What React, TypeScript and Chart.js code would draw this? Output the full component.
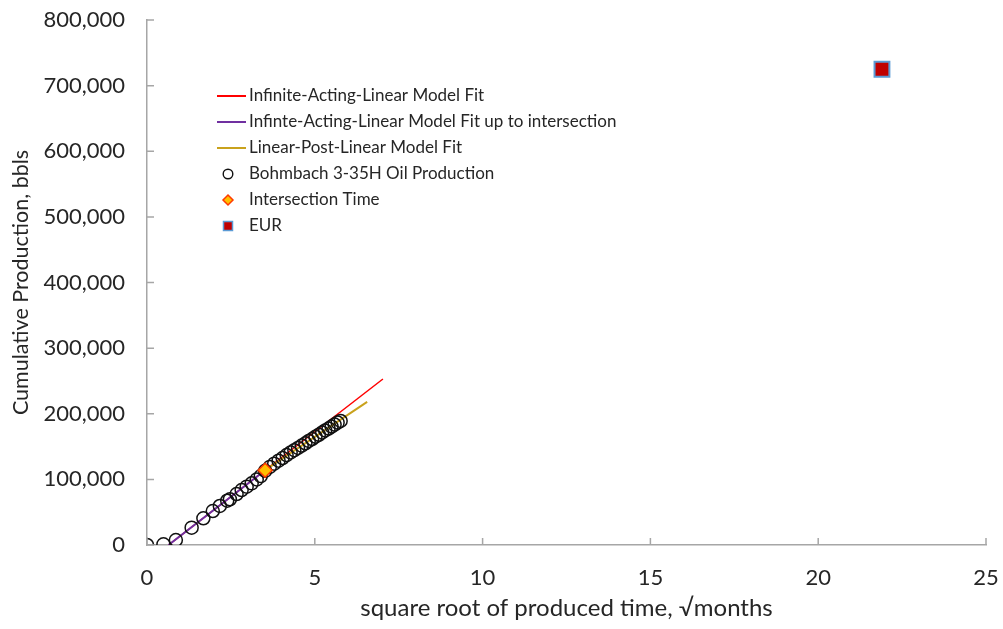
import React, { useEffect, useRef } from "react";
import { Chart, registerables } from "chart.js";

Chart.register(...registerables);

// Square-root-time plot of cumulative oil production with model fits
const productionX = [
  0, 0.49, 0.86, 1.33, 1.68, 1.96, 2.17, 2.39, 2.47, 2.67, 2.82, 2.97, 3.12,
  3.27, 3.39, 3.52, 3.66, 3.79, 3.92, 4.04, 4.16, 4.28, 4.39, 4.5, 4.61, 4.72,
  4.82, 4.92, 5.02, 5.12, 5.22, 5.31, 5.41, 5.5, 5.59, 5.68, 5.77,
];
const productionY = [
  0, 1000, 7600, 26400, 40700, 51800, 59500, 67500, 69700, 77700, 83800, 88900,
  94000, 100000, 105000, 113000, 119000, 124000, 128500, 132500, 137000,
  141000, 144500, 148000, 151500, 155000, 158500, 161500, 165000, 168000,
  171500, 174500, 177500, 180500, 183500, 186500, 189000,
];

const infiniteFitX = [0.64, 7.03];
const infiniteFitY = [0, 253000];

const infiniteToIntersectionX = [0.64, 3.52];
const infiniteToIntersectionY = [0, 114000];

const postLinearX = [3.52, 6.56];
const postLinearY = [114000, 218000];

const intersectionX = [3.52];
const intersectionY = [114000];

const eurX = [21.9];
const eurY = [725000];

const xMin = 0;
const xMax = 25;
const xStep = 5;
const yMin = 0;
const yMax = 800000;
const yStep = 100000;

const seriesNames = [
  "Infinite-Acting-Linear Model Fit",
  "Infinte-Acting-Linear Model Fit up to intersection",
  "Linear-Post-Linear Model Fit",
  "Bohmbach 3-35H Oil Production",
  "Intersection Time",
  "EUR",
];

const xTitle = "square root of produced time, \u221Amonths";
const yTitle = "Cumulative Production, bbls";

const FONT = "Lato, 'Open Sans', sans-serif";
const TEXT = "#262626";
const AXIS = "#A6A6A6";

const toPoints = (xs: number[], ys: number[]) =>
  xs.map((x, i) => ({ x, y: ys[i] }));

// Tick marks that point into the plot area
const innerTicks = {
  id: "innerTicks",
  afterDatasetsDraw(chart: any) {
    const { ctx, chartArea, scales } = chart;
    ctx.save();
    ctx.strokeStyle = AXIS;
    ctx.lineWidth = 1.5;
    ctx.beginPath();
    for (const t of scales.x.ticks) {
      const px = scales.x.getPixelForValue(t.value);
      ctx.moveTo(px, chartArea.bottom);
      ctx.lineTo(px, chartArea.bottom - 7);
    }
    for (const t of scales.y.ticks) {
      const py = scales.y.getPixelForValue(t.value);
      ctx.moveTo(chartArea.left, py);
      ctx.lineTo(chartArea.left + 7, py);
    }
    ctx.stroke();
    ctx.restore();
  },
};

// Legend drawn inside the plot area, upper left
const insideLegend = {
  id: "insideLegend",
  afterDraw(chart: any) {
    const { ctx } = chart;
    const sets = chart.data.datasets;
    const lx = 217;
    const top = 96;
    const rowH = 26;
    ctx.save();
    ctx.font = `17px ${FONT}`;
    ctx.textBaseline = "middle";
    ctx.fillStyle = TEXT;
    sets.forEach((ds: any, i: number) => {
      const y = top + i * rowH;
      const cx = lx + 11;
      if (ds.showLine) {
        ctx.strokeStyle = ds.borderColor;
        ctx.lineWidth = 2;
        ctx.beginPath();
        ctx.moveTo(lx, y);
        ctx.lineTo(lx + 29, y);
        ctx.stroke();
      } else if (ds.pointStyle === "circle") {
        ctx.strokeStyle = ds.borderColor;
        ctx.lineWidth = 1.4;
        ctx.beginPath();
        ctx.arc(cx, y, 4.8, 0, Math.PI * 2);
        ctx.stroke();
      } else if (ds.pointStyle === "rectRot") {
        ctx.fillStyle = ds.backgroundColor;
        ctx.strokeStyle = ds.borderColor;
        ctx.lineWidth = 1.5;
        ctx.beginPath();
        ctx.moveTo(cx, y - 5);
        ctx.lineTo(cx + 5, y);
        ctx.lineTo(cx, y + 5);
        ctx.lineTo(cx - 5, y);
        ctx.closePath();
        ctx.fill();
        ctx.stroke();
      } else {
        ctx.fillStyle = ds.backgroundColor;
        ctx.strokeStyle = ds.borderColor;
        ctx.lineWidth = 1.5;
        ctx.fillRect(cx - 4.5, y - 4.5, 9, 9);
        ctx.strokeRect(cx - 4.5, y - 4.5, 9, 9);
      }
      ctx.fillStyle = TEXT;
      ctx.fillText(ds.label, lx + 32, y);
    });
    ctx.restore();
  },
};

export default function App() {
  const canvasRef = useRef<HTMLCanvasElement | null>(null);

  useEffect(() => {
    if (!canvasRef.current) return;
    const lineSet = (label: string, xs: number[], ys: number[], color: string, width: number, order: number) => ({
      label,
      data: toPoints(xs, ys),
      showLine: true,
      borderColor: color,
      backgroundColor: color,
      borderWidth: width,
      pointRadius: 0,
      pointHoverRadius: 0,
      order,
    });

    const chart = new Chart(canvasRef.current, {
      type: "scatter",
      data: {
        datasets: [
          lineSet(seriesNames[0], infiniteFitX, infiniteFitY, "#FF0000", 1.5, 5),
          lineSet(seriesNames[1], infiniteToIntersectionX, infiniteToIntersectionY, "#7030A0", 2, 4),
          lineSet(seriesNames[2], postLinearX, postLinearY, "#C9A21C", 2, 3),
          {
            label: seriesNames[3],
            data: toPoints(productionX, productionY),
            pointStyle: "circle",
            pointRadius: 6.5,
            borderWidth: 1.5,
            borderColor: "#111111",
            backgroundColor: "rgba(0,0,0,0)",
            showLine: false,
            order: 2,
          },
          {
            label: seriesNames[4],
            data: toPoints(intersectionX, intersectionY),
            pointStyle: "rectRot",
            pointRadius: 7,
            borderWidth: 1.5,
            borderColor: "#FF3B00",
            backgroundColor: "#FFC000",
            showLine: false,
            order: 1,
          },
          {
            label: seriesNames[5],
            data: toPoints(eurX, eurY),
            pointStyle: "rect",
            pointRadius: 10.5,
            borderWidth: 2,
            borderColor: "#5B9BD5",
            backgroundColor: "#C00000",
            showLine: false,
            order: 0,
          },
        ] as any,
      },
      options: {
        responsive: false,
        animation: false,
        events: [],
        layout: { padding: { top: 20, right: 17, left: 0, bottom: 0 } },
        plugins: {
          legend: { display: false },
          tooltip: { enabled: false },
        },
        scales: {
          x: {
            type: "linear",
            min: xMin,
            max: xMax,
            afterFit: (s: any) => {
              s.height = 84;
              s.paddingLeft = 0;
              s.paddingRight = 0;
            },
            ticks: {
              stepSize: xStep,
              color: TEXT,
              padding: 20,
              font: { family: FONT, size: 22 },
            },
            grid: { display: false, drawTicks: false },
            border: { display: true, color: AXIS, width: 1.5 },
            title: {
              display: true,
              text: xTitle,
              color: TEXT,
              font: { family: FONT, size: 24 },
              padding: { top: 0, bottom: 6 },
            },
          },
          y: {
            type: "linear",
            min: yMin,
            max: yMax,
            afterFit: (s: any) => {
              s.width = 147;
              s.paddingTop = 0;
              s.paddingBottom = 0;
            },
            ticks: {
              stepSize: yStep,
              color: TEXT,
              padding: 22,
              font: { family: FONT, size: 22 },
              callback: (v: any) => Number(v).toLocaleString("en-US"),
            },
            grid: { display: false, drawTicks: false },
            border: { display: true, color: AXIS, width: 1.5 },
            title: {
              display: true,
              text: yTitle,
              color: TEXT,
              font: { family: FONT, size: 21.5 },
              padding: { top: 8, bottom: 0 },
            },
          },
        },
      } as any,
      plugins: [innerTicks, insideLegend],
    });
    return () => chart.destroy();
  }, []);

  return (
    <div style={{ position: "absolute", left: 0, top: 0, width: 1003, height: 629, background: "#fff" }}>
      <canvas ref={canvasRef} width={1003} height={629} />
    </div>
  );
}
